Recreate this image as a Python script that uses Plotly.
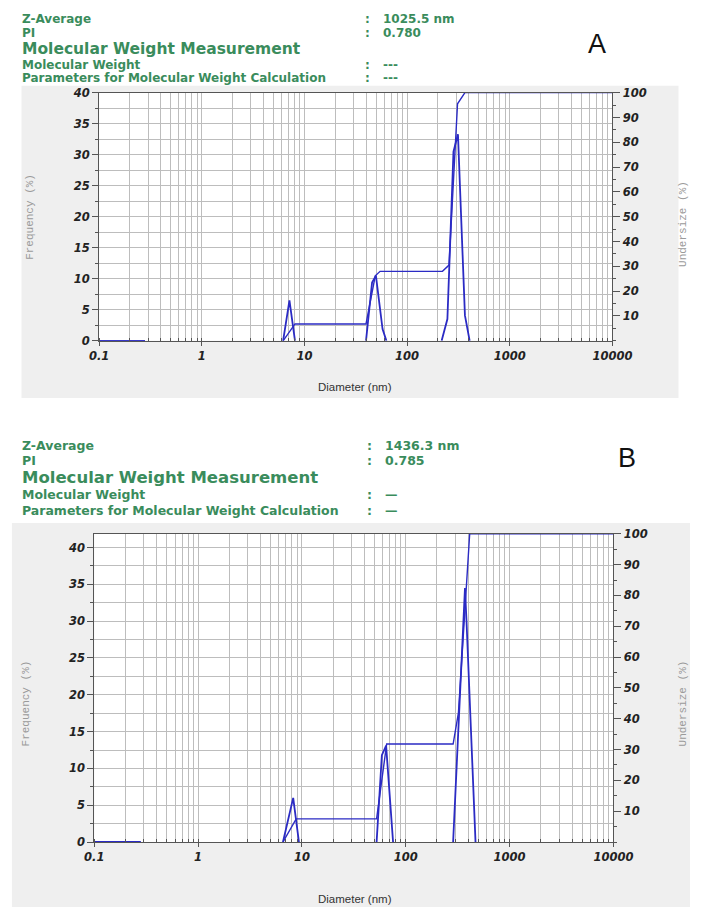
import plotly.graph_objects as go

W, H = 710, 914

# ---------------- data ----------------
# Panel A  (None = no line drawn, the curve sits on the axis there)
a_freq_d = [0.1, 0.28, None, 6.2, 7.15, 8.1, None, 39.8, 45.6, 49.7, 57.7, 62.9, None,
            217, 247, 283, 313, 366, 407]
a_freq_v = [0, 0, None, 0, 6.5, 0, None, 0, 9.4, 10.5, 1.9, 0, None,
            0, 3.5, 30.5, 33.3, 4.1, 0]
a_under_d = [0.1, 0.28, None, 6.2, 8.1, 39.8, 49, 54.6, 221, 256, 310, 366, 10000]
a_under_v = [0, 0, None, 0, 6.8, 6.8, 26.2, 28, 28, 30.5, 95.5, 100, 100]

# Panel B
b_freq_d = [0.1, 0.28, None, 6.57, 8.24, 9.36, None, 52.4, 58.9, 64.7, 75.5, None,
            286, 372, 385, 470]
b_freq_v = [0, 0, None, 0, 6.0, 0, None, 0, 11.8, 13.1, 0, None,
            0, 34.5, 30, 0]
b_under_d = [0.1, 0.28, None, 6.57, 8.8, 52.4, 65.5, 286, 322, 413, 10000]
b_under_v = [0, 0, None, 0, 7.5, 7.5, 31.8, 31.8, 42, 100, 100]

x_tickvals = [0.1, 1, 10, 100, 1000, 10000]
x_ticktext = ["0.1", "1", "10", "100", "1000", "10000"]
freq_ticks = [0, 5, 10, 15, 20, 25, 30, 35, 40]
under_ticks = [10, 20, 30, 40, 50, 60, 70, 80, 90, 100]

header_a = [("Z-Average", "1025.5 nm"), ("PI", "0.780"),
            ("Molecular Weight Measurement", None),
            ("Molecular Weight", "---"),
            ("Parameters for Molecular Weight Calculation", "---")]
header_b = [("Z-Average", "1436.3 nm"), ("PI", "0.785"),
            ("Molecular Weight Measurement", None),
            ("Molecular Weight", "—"),
            ("Parameters for Molecular Weight Calculation", "—")]

# ---------------- helpers ----------------
def px(x):
    return x / W

def py(y):
    return 1 - y / H

BLUE = "#2b2bc4"
GREEN = "#3a8c5c"
GRID = "#bdbdbd"
AXC = "#555555"
FONT = "DejaVu Sans, Verdana, sans-serif"
tickfont = dict(family=FONT, size=11.5, color="#222222", weight="bold", style="italic")

fig = go.Figure()

fig.add_trace(go.Scatter(x=a_under_d, y=a_under_v, mode="lines", xaxis="x", yaxis="y2",
                         line=dict(color=BLUE, width=1.4), connectgaps=False, showlegend=False))
fig.add_trace(go.Scatter(x=a_freq_d, y=a_freq_v, mode="lines", xaxis="x", yaxis="y",
                         line=dict(color=BLUE, width=1.8), connectgaps=False, showlegend=False))
fig.add_trace(go.Scatter(x=b_under_d, y=b_under_v, mode="lines", xaxis="x2", yaxis="y4",
                         line=dict(color=BLUE, width=1.4), connectgaps=False, showlegend=False))
fig.add_trace(go.Scatter(x=b_freq_d, y=b_freq_v, mode="lines", xaxis="x2", yaxis="y3",
                         line=dict(color=BLUE, width=1.8), connectgaps=False, showlegend=False))

def xaxis(domain, anchor):
    return dict(domain=domain, anchor=anchor, type="log", range=[-1, 4],
                tickvals=x_tickvals, ticktext=x_ticktext, tickfont=tickfont,
                ticks="outside", ticklen=4, tickcolor=AXC,
                showgrid=True, gridcolor=GRID, gridwidth=1,
                minor=dict(dtick="D1", showgrid=True, gridcolor=GRID,
                           ticks="inside", ticklen=3, tickcolor="#555555"),
                showline=True, linecolor=AXC, linewidth=1, mirror=True,
                zeroline=False, fixedrange=True)

def yleft(domain, anchor, top):
    return dict(domain=domain, anchor=anchor, range=[0, top],
                tickvals=freq_ticks, tickfont=tickfont,
                ticks="outside", ticklen=6, tickcolor=AXC,
                showgrid=True, gridcolor=GRID,
                minor=dict(dtick=2.5, tick0=0, showgrid=True, gridcolor=GRID,
                           ticks="outside", ticklen=3, tickcolor=AXC),
                showline=True, linecolor=AXC, linewidth=1,
                zeroline=False, fixedrange=True)

def yright(overlay, anchor):
    return dict(overlaying=overlay, anchor=anchor, side="right", range=[0, 100],
                tickvals=under_ticks, tickfont=tickfont,
                ticks="outside", ticklen=7, tickcolor=AXC,
                showgrid=False,
                minor=dict(dtick=5, tick0=0, ticks="outside", ticklen=3, tickcolor=AXC),
                showline=True, linecolor=AXC, linewidth=1,
                zeroline=False, fixedrange=True)

a_xdom = [px(93), px(629)]
a_ydom = [py(339), py(87)]
b_xdom = [px(88), px(630)]
b_ydom = [py(848), py(535)]
b_top = 40 * (848 - 535) / (848 - 549)

shapes = [
    dict(type="rect", xref="paper", yref="paper", x0=px(12), x1=px(698), y0=py(397), y1=py(80),
         fillcolor="#efefef", line=dict(width=0), layer="below"),
    dict(type="rect", xref="paper", yref="paper", x0=px(2), x1=px(710), y0=0, y1=py(524),
         fillcolor="#efefef", line=dict(width=0), layer="below"),
    dict(type="rect", xref="paper", yref="paper", x0=a_xdom[0], x1=a_xdom[1], y0=a_ydom[0], y1=a_ydom[1],
         fillcolor="white", line=dict(width=0), layer="below"),
    dict(type="rect", xref="paper", yref="paper", x0=b_xdom[0], x1=b_xdom[1], y0=b_ydom[0], y1=b_ydom[1],
         fillcolor="white", line=dict(width=0), layer="below"),
]

ann = []

def header(rows, ys, colon_x, val_x, small, big):
    for (label, val), y in zip(rows, ys):
        size = big if label.startswith("Molecular Weight Measurement") else small
        ann.append(dict(text=label, x=px(10), y=py(y), xref="paper", yref="paper",
                        xanchor="left", yanchor="middle", showarrow=False,
                        font=dict(family=FONT, size=size, color=GREEN, weight="bold")))
        if val is not None:
            ann.append(dict(text=":", x=px(colon_x), y=py(y), xref="paper", yref="paper",
                            xanchor="center", yanchor="middle", showarrow=False,
                            font=dict(family=FONT, size=small, color=GREEN, weight="bold")))
            ann.append(dict(text=val, x=px(val_x), y=py(y), xref="paper", yref="paper",
                            xanchor="left", yanchor="middle", showarrow=False,
                            font=dict(family=FONT, size=small, color=GREEN, weight="bold")))

header(header_a, [12.5, 26.5, 42.5, 58.5, 72.5], 373, 387, 12, 15.5)
header(header_b, [445.5, 460.5, 478, 495, 511], 375, 389, 12.5, 16.5)

ann.append(dict(text="A", x=px(613), y=py(38), xref="paper", yref="paper", showarrow=False,
                xanchor="center", yanchor="middle",
                font=dict(family="Liberation Sans, Arial, sans-serif", size=27, color="#111111")))
ann.append(dict(text="B", x=px(644), y=py(458), xref="paper", yref="paper", showarrow=False,
                xanchor="center", yanchor="middle",
                font=dict(family="Liberation Sans, Arial, sans-serif", size=27, color="#111111")))

mono = dict(family="Liberation Mono, DejaVu Sans Mono, monospace", size=11, color="#9a9a9a")
for x, y, t in [(21, 213, "Frequency (%)"), (702, 220, "Undersize (%)"),
                (17, 707, "Frequency (%)"), (703, 707, "Undersize (%)")]:
    ann.append(dict(text=t, x=px(x), y=py(y), xref="paper", yref="paper", showarrow=False,
                    textangle=-90, xanchor="center", yanchor="middle", font=mono))

for x, y in [(360, 386), (360, 906)]:
    ann.append(dict(text="Diameter (nm)", x=px(x), y=py(y), xref="paper", yref="paper", showarrow=False,
                    xanchor="center", yanchor="middle",
                    font=dict(family="Liberation Sans, Arial, sans-serif", size=11.5, color="#333333")))

fig.update_layout(
    width=W, height=H, margin=dict(l=0, r=0, t=0, b=0),
    paper_bgcolor="white", plot_bgcolor="white",
    xaxis=xaxis(a_xdom, "y"),
    yaxis=yleft(a_ydom, "x", 40),
    yaxis2=yright("y", "x"),
    xaxis2=xaxis(b_xdom, "y3"),
    yaxis3=yleft(b_ydom, "x2", b_top),
    yaxis4=yright("y3", "x2"),
    shapes=shapes, annotations=ann, showlegend=False,
)

fig.write_html("out.html")
